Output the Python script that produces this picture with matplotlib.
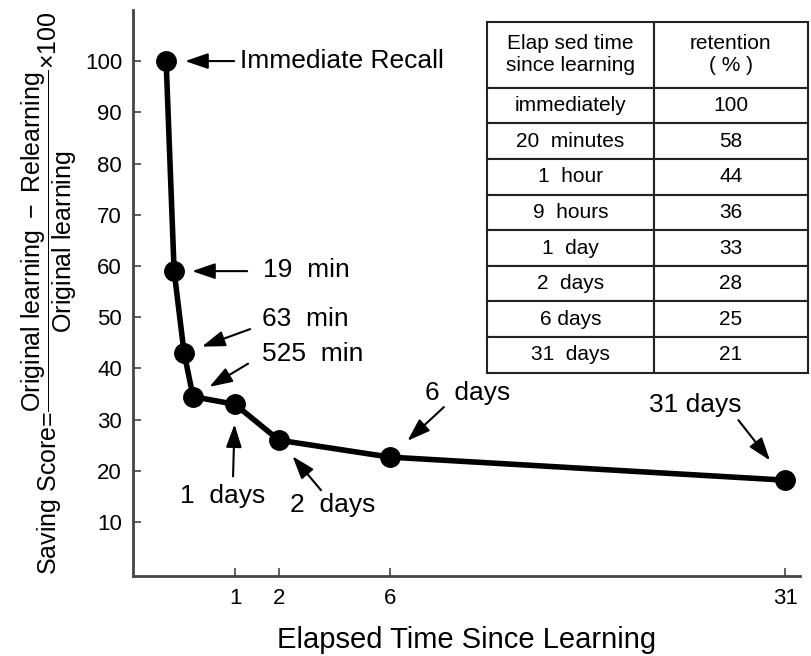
import numpy as np
import matplotlib
matplotlib.use("Agg")
import matplotlib.pyplot as plt

plt.rcParams['font.family'] = ['Liberation Sans', 'DejaVu Sans']
plt.rcParams['mathtext.fontset'] = 'custom'
plt.rcParams['mathtext.rm'] = 'Liberation Sans'
plt.rcParams['mathtext.it'] = 'Liberation Sans:italic'

# elapsed time in days, and the plotted saving score
days = [0, 19 / 1440, 63 / 1440, 525 / 1440, 1, 2, 6, 31]
score = [100, 59, 43, 34.5, 33, 26, 22.7, 18.2]
xticks = [1, 2, 6, 31]
yticks = [10, 20, 30, 40, 50, 60, 70, 80, 90, 100]

table_head = ["Elap sed time\nsince learning", "retention\n( % )"]
table_time = ["immediately", "20  minutes", "1  hour", "9  hours",
              "1  day", "2  days", "6 days", "31  days"]
table_ret = ["100", "58", "44", "36", "33", "28", "25", "21"]

# annotation text, point index
notes = [("Immediate Recall", 0), ("19  min", 1), ("63  min", 2),
         ("525  min", 3), ("1  days", 4), ("2  days", 5),
         ("6  days", 6), ("31 days", 7)]

# the hand drawn time axis is stretched piecewise
scale_days = [-0.6, 0, 19 / 1440, 63 / 1440, 525 / 1440, 1, 2, 6, 31, 32]
scale_pos = [0, 33, 41, 51, 60, 102, 146, 257, 653, 669]


def fwd(d):
    return np.interp(d, scale_days, scale_pos)


def inv(p):
    return np.interp(p, scale_pos, scale_days)


fig = plt.figure(figsize=(8.12, 6.56), dpi=100)
ax = fig.add_axes([0.164, 0.122, 0.821, 0.863])
ax.set_xscale('function', functions=(fwd, inv))
ax.set_xlim(-0.6, 31.9)
ax.set_ylim(-0.5, 110)

ax.plot(days, score, color='black', lw=4, marker='o', ms=14, zorder=3)

for s in ['top', 'right']:
    ax.spines[s].set_visible(False)
for s in ['left', 'bottom']:
    ax.spines[s].set_color('#444444')
    ax.spines[s].set_linewidth(2)

ax.set_xticks(xticks)
ax.set_xticklabels([str(t) for t in xticks])
ax.set_yticks(yticks)
ax.tick_params(direction='in', length=6, width=1.2, color='#444444',
               labelsize=16, pad=8)
ax.tick_params(axis='x', pad=9)

ax.set_xlabel("Elapsed Time Since Learning", fontsize=21, labelpad=12)
ax.set_ylabel(r'Saving Score=$\dfrac{\mathrm{Original\ learning\ -\ Relearning}}'
              r'{\mathrm{Original\ learning}}$$\times$100', fontsize=18, labelpad=4)

# arrows: tail offset (px) from the point, gap (px) at the head
arrow_tail = [(68, 0), (73, 0), (66, 24), (55, 33), (-2, -72), (42, -50),
              (54, 50), (-47, 60)]
arrow_gap = [19, 18, 19, 19, 20, 21, 24, 25]
text_off = [(74, 0), (89, 1), (78, 34), (69, 43), (-55, -92), (11, -65),
            (35, 64), (-136, 75)]

for (label, i), tail, gap, toff in zip(notes, arrow_tail, arrow_gap, text_off):
    ax.annotate('', xy=(days[i], score[i]), xytext=tail,
                textcoords='offset pixels',
                arrowprops=dict(arrowstyle='-|>,head_length=0.7,head_width=0.24',
                                mutation_scale=20, color='black', lw=1.5,
                                shrinkA=0, shrinkB=gap * 0.72))
    ax.annotate(label, xy=(days[i], score[i]), xytext=toff,
                textcoords='offset pixels', ha='left', va='center',
                fontsize=19)

cells = [[t, r] for t, r in zip(table_time, table_ret)]
tab = ax.table(cellText=cells, colLabels=table_head, cellLoc='center',
               bbox=[0.531, 0.359, 0.481, 0.620], colWidths=[0.52, 0.48])
tab.auto_set_font_size(False)
tab.set_fontsize(15)
for (r, c), cell in tab.get_celld().items():
    cell.set_linewidth(1.5)
    cell.set_edgecolor('#222222')
    if r == 0:
        cell.set_height(cell.get_height() * 1.85)

fig.savefig("out.png", dpi=100)
